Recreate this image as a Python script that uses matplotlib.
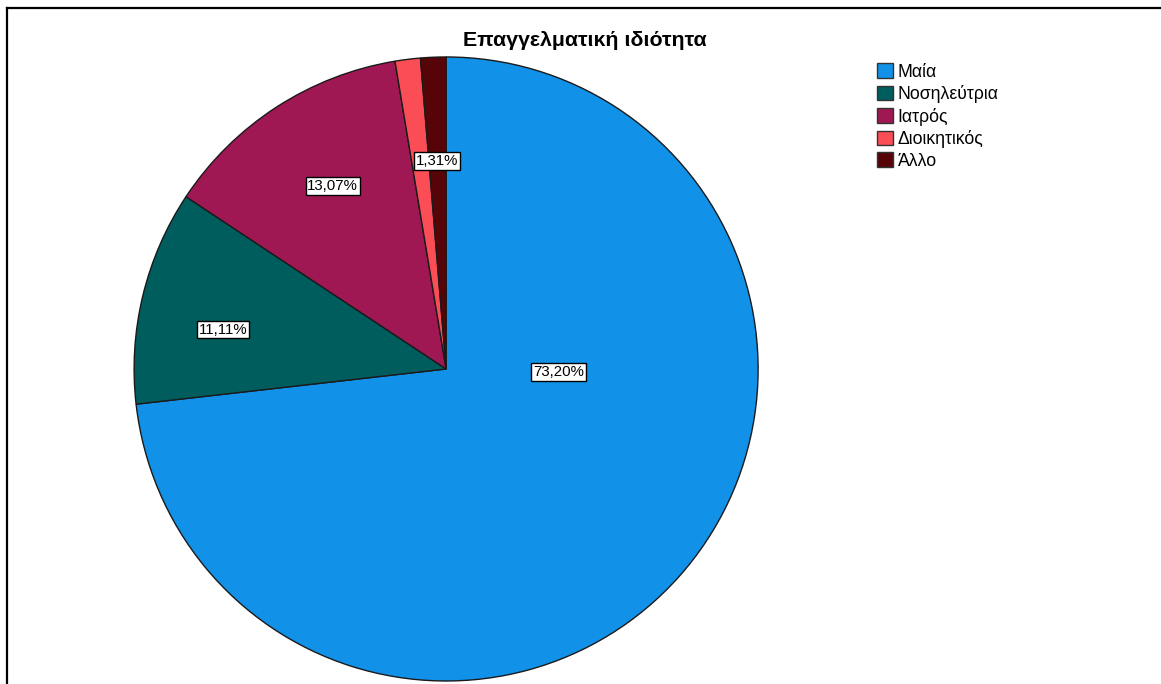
import matplotlib.pyplot as plt
import numpy as np
from matplotlib.patches import Patch
from matplotlib.lines import Line2D

plt.rcParams['font.family'] = ['Liberation Sans', 'DejaVu Sans']

# Data
categories = ['Μαία', 'Νοσηλεύτρια', 'Ιατρός', 'Διοικητικός', 'Άλλο']
percentages = [73.20, 11.11, 13.07, 1.31, 1.31]
colors = ['#1192e8', '#005d5d', '#9f1853', '#fa4d56', '#570408']

# which slices get a value box, and where (radius, angle offset from slice middle)
shown = [True, True, True, False, True]
label_radius = [0.36, 0.725, 0.69, 0.67, 0.667]
label_shift = [40.3, 3.5, -1.2, 0.0, 0.1]

fig = plt.figure(figsize=(11.61, 6.84), dpi=100)
ax = fig.add_axes([0.1155, 0.0044, 0.5375, 0.9123])

wedges, _ = ax.pie(percentages, colors=colors, startangle=90, counterclock=False,
                   radius=1.0,
                   wedgeprops=dict(edgecolor='#1a1a1a', linewidth=1.0))
ax.set_xlim(-1, 1)
ax.set_ylim(-1, 1)
ax.set_aspect('equal')
ax.axis('off')

for w, pct, show, r, shift in zip(wedges, percentages, shown, label_radius, label_shift):
    if not show:
        continue
    ang = np.deg2rad((w.theta1 + w.theta2) / 2 + shift)
    ax.text(r * np.cos(ang), r * np.sin(ang), f'{pct:.2f}%'.replace('.', ','),
            ha='center', va='center', fontsize=10.8, color='black',
            bbox=dict(boxstyle='square,pad=0.12', facecolor='white',
                      edgecolor='black', linewidth=1.0))

fig.text(585 / 1161, 1 - 40 / 684, 'Επαγγελματική ιδιότητα', ha='center', va='center',
         fontsize=15.4, fontweight='bold')

handles = [Patch(facecolor=c, edgecolor='#333333', linewidth=1.0) for c in colors]
fig.legend(handles, categories, loc='upper left', bbox_to_anchor=(865 / 1161, 1 - 51 / 684),
           frameon=False, fontsize=12.7, handlelength=0.9, handleheight=0.9,
           handletextpad=0.25, labelspacing=0.25, borderpad=0.2)

# frame lines along the top and left edges
fig.add_artist(Line2D([7 / 1161, 7 / 1161], [0, 1 - 8 / 684], transform=fig.transFigure,
                      color='black', linewidth=1.6))
fig.add_artist(Line2D([7 / 1161, 1], [1 - 8 / 684, 1 - 8 / 684], transform=fig.transFigure,
                      color='black', linewidth=1.6))

fig.savefig('out.png', dpi=100, facecolor='white')
